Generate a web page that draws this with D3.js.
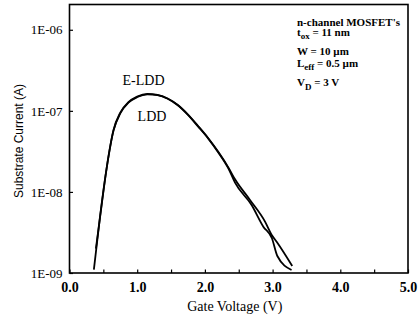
<!DOCTYPE html>
<html><head><meta charset="utf-8">
<script src="https://cdn.jsdelivr.net/npm/d3@7"></script>
<style>body{margin:0;background:#fff}svg{display:block}</style>
</head><body>
<script>
// Data
const eVolt = [0.39,0.45,0.55,0.65,0.75,0.87,1.0,1.15,1.3,1.45,1.6,1.75,1.9,2.05,2.2,2.35,2.445,2.666,2.888,2.987,3.06,3.29];
const eCurr = [2.0e-9,4.8e-9,2.0e-8,5.8e-8,9.5e-8,1.28e-7,1.50e-7,1.62e-7,1.57e-7,1.42e-7,1.18e-7,9.0e-8,6.5e-8,4.6e-8,3.1e-8,1.98e-8,1.43e-8,7.96e-9,4.3e-9,2.95e-9,2.43e-9,1.22e-9];
const lVolt = [0.36,0.45,0.55,0.65,0.75,0.87,1.0,1.15,1.3,1.45,1.6,1.75,1.9,2.05,2.2,2.35,2.445,2.69,2.863,2.99,3.07,3.28];
const lCurr = [1.1e-9,4.9e-9,2.0e-8,5.7e-8,9.3e-8,1.26e-7,1.48e-7,1.60e-7,1.56e-7,1.41e-7,1.17e-7,8.9e-8,6.4e-8,4.55e-8,3.05e-8,1.93e-8,1.30e-8,6.9e-9,3.73e-9,2.68e-9,1.62e-9,1.09e-9];
const seriesNames = ["E-LDD","LDD"];
const xTicks = [0,0.5,1,1.5,2,2.5,3,3.5,4,4.5,5];
const yTicks = [1e-9,1e-8,1e-7,1e-6];
const yTickLabels = ["1E-09","1E-08","1E-07","1E-06"];
const xTitle = "Gate Voltage (V)";
const yTitle = "Substrate Current (A)";

const W = 420, H = 320;
const L = 69.5, R = 408, T = 4.5, B = 273;
const svg = d3.select("body").append("svg").attr("width", W).attr("height", H);
const x = d3.scaleLinear().domain([0,5]).range([L,R]);
const y = d3.scaleLog().domain([1e-9, 2.05e-6]).range([B,T]);

const serif = "'Liberation Serif','Times New Roman',serif";

// frame
svg.append("rect").attr("x",L).attr("y",T).attr("width",R-L).attr("height",B-T)
  .attr("fill","none").attr("stroke","#000").attr("stroke-width",1.6);

// x axis
const xa = svg.append("g").attr("transform",`translate(0,${B})`)
  .call(d3.axisBottom(x).tickValues(xTicks).tickSize(-3.5).tickPadding(9)
    .tickFormat(d => Number.isInteger(d) ? d3.format(".1f")(d) : ""));
xa.select(".domain").remove();
xa.selectAll("line").attr("stroke","#000").attr("stroke-width",1.2);
xa.selectAll("text").attr("font-family",serif).attr("font-size",14).attr("font-weight","bold").attr("fill","#000");

// y axis
const ya = svg.append("g").attr("transform",`translate(${L},0)`)
  .call(d3.axisLeft(y).tickValues(yTicks).tickSize(-3.5).tickPadding(7)
    .tickFormat((d,i) => yTickLabels[i]));
ya.select(".domain").remove();
ya.selectAll("line").attr("stroke","#000").attr("stroke-width",1.2);
ya.selectAll("text").attr("font-family",serif).attr("font-size",13).attr("fill","#000");

// titles
svg.append("text").attr("x",(L+R)/2 - 4).attr("y",311).attr("text-anchor","middle")
  .attr("font-family",serif).attr("font-size",14).text(xTitle);
svg.append("text").attr("transform","translate(23,141) rotate(-90)").attr("text-anchor","middle")
  .attr("font-family","'Liberation Sans',Arial,sans-serif").attr("font-size",12).text(yTitle);

// curves
const line = d3.line().x(d => x(d[0])).y(d => y(d[1])).curve(d3.curveMonotoneX);
const dataE = eVolt.map((v,i) => [v, eCurr[i]]);
const dataL = lVolt.map((v,i) => [v, lCurr[i]]);
[dataE, dataL].forEach(d => {
  svg.append("path").datum(d).attr("d", line).attr("fill","none")
    .attr("stroke","#000").attr("stroke-width",1.8).attr("stroke-linejoin","round");
});

// series labels
svg.append("text").attr("x",143.5).attr("y",85).attr("text-anchor","middle")
  .attr("font-family",serif).attr("font-size",14).text(seriesNames[0]);
svg.append("text").attr("x",152).attr("y",121).attr("text-anchor","middle")
  .attr("font-family",serif).attr("font-size",14).text(seriesNames[1]);

// annotation
const ann = svg.append("g").attr("font-family",serif).attr("font-size",11).attr("font-weight","bold");
ann.append("text").attr("x",297).attr("y",25.5).text("n-channel MOSFET's");
const t1 = ann.append("text").attr("x",297).attr("y",36);
t1.append("tspan").text("t");
t1.append("tspan").attr("dy",3).attr("font-size",9).text("ox");
t1.append("tspan").attr("dy",-3).text(" = 11 nm");
ann.append("text").attr("x",297).attr("y",55).text("W = 10 µm");
const t2 = ann.append("text").attr("x",297).attr("y",66.5);
t2.append("tspan").text("L");
t2.append("tspan").attr("dy",3).attr("font-size",9).text("eff");
t2.append("tspan").attr("dy",-3).text(" = 0.5 µm");
const t3 = ann.append("text").attr("x",297).attr("y",86);
t3.append("tspan").text("V");
t3.append("tspan").attr("dy",4).attr("font-size",9).text("D");
t3.append("tspan").attr("dy",-4).text(" = 3 V");
</script>
</body></html>
